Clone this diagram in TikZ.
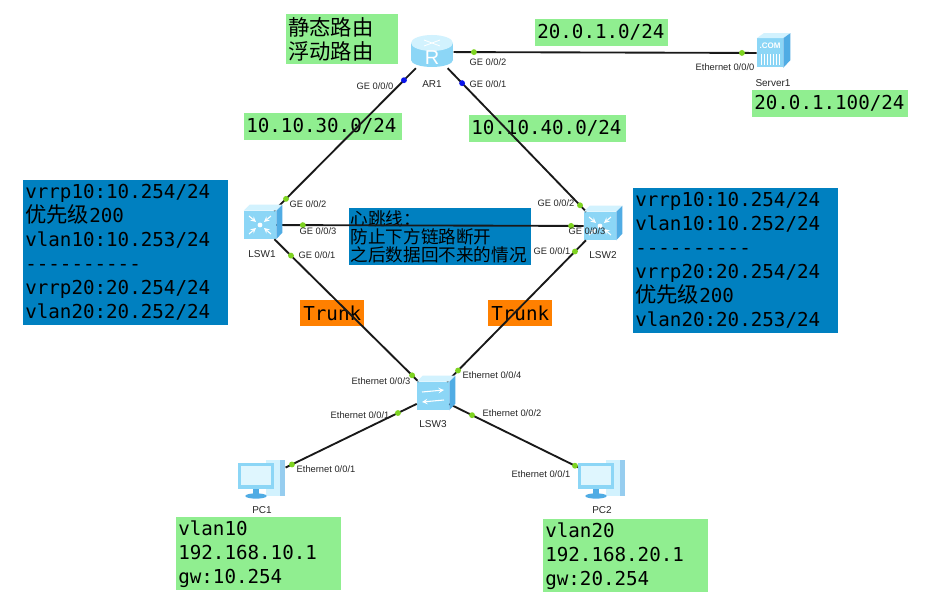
\documentclass[tikz,border=0pt]{standalone}
\usepackage{fontspec}
\setmainfont{Liberation Sans}
\newfontfamily\monofont{DejaVu Sans Mono}[Ligatures=TeXOff]
\newfontfamily\cjk{Noto Sans CJK SC}
\usepackage{tikz}
\usetikzlibrary{calc}
\usetikzlibrary{arrows}

\definecolor{boxgreen}{RGB}{144,238,144}
\definecolor{boxblue}{RGB}{0,128,192}
\definecolor{trunkorange}{RGB}{255,128,0}
\definecolor{portgreen}{RGB}{126,211,33}
\definecolor{portblue}{RGB}{10,20,235}
\definecolor{devfront}{RGB}{140,214,246}
\definecolor{devtop}{RGB}{210,242,254}
\definecolor{devside}{RGB}{80,172,228}

\tikzset{
  gbox/.style={fill=boxgreen, anchor=north west, inner xsep=1.5pt, inner ysep=0pt,
    align=left, font=\monofont\fontsize{14.4}{18}\selectfont},
  bbox/.style={gbox, fill=boxblue},
  trunkbox/.style={fill=trunkorange, anchor=north west, inner sep=0pt,
    minimum width=48pt, minimum height=19.5pt, font=\monofont\fontsize{14.4}{18}\selectfont},
  link/.style={line width=1.4pt, black!90},
  port/.style={font=\fontsize{7}{8}\selectfont, text=black!85, inner sep=0pt},
  devname/.style={font=\fontsize{7.5}{9}\selectfont, text=black!85, inner sep=0pt},
  swbox/.style={rectangle, fill=devfront, minimum width=24pt, minimum height=21pt, inner sep=0pt},
  router/.style={rectangle, minimum width=32pt, minimum height=24pt, inner sep=0pt},
  server/.style={rectangle, fill=devfront, minimum width=19.5pt, minimum height=21.75pt, inner sep=0pt},
  pcbox/.style={rectangle, minimum width=35pt, minimum height=28pt, inner sep=0pt}
}

\begin{document}
\begin{tikzpicture}[x=0.75pt, y=-0.75pt]
\useasboundingbox (0,0) rectangle (931,609);
\fill[white] (0,0) rectangle (931,609);

% text boxes
\node[gbox, text width=81pt, minimum height=37.5pt, font=\cjk\fontsize{16}{18}\selectfont] (static) at (286,14) {静态路由\\浮动路由};
\node[gbox, text width=96.75pt, minimum height=20.25pt] (net20) at (535,19) {20.0.1.0/24};
\node[gbox, text width=114pt, minimum height=20.25pt] (srvip) at (752,90) {20.0.1.100/24};
\node[gbox, text width=115.5pt, minimum height=20.25pt] (net30) at (244,113) {10.10.30.0/24};
\node[gbox, text width=114.75pt, minimum height=20.25pt] (net40) at (469,115) {10.10.40.0/24};
\node[bbox, text width=150.75pt, minimum height=108.75pt] (sw1info) at (23,180)
  {vrrp10:10.254/24\\{\cjk\fontsize{16}{18}\selectfont 优先级}200\\vlan10:10.253/24\\----------\\vrrp20:20.254/24\\vlan20:20.252/24};
\node[bbox, text width=150.75pt, minimum height=108.75pt] (sw2info) at (633,188)
  {vrrp10:10.254/24\\vlan10:10.252/24\\----------\\vrrp20:20.254/24\\{\cjk\fontsize{16}{18}\selectfont 优先级}200\\vlan20:20.253/24};
\node[bbox, inner xsep=1pt, text width=134pt, minimum height=42.75pt, font=\cjk\fontsize{13.2}{13.4}\selectfont] (heart) at (349,208)
  {心跳线：\\防止下方链路断开\\之后数据回不来的情况};
\node[trunkbox] (trunk1) at (300,300) {Trunk};
\node[trunkbox] (trunk2) at (488,300) {Trunk};
\node[gbox, text width=120.75pt, minimum height=54.75pt] (pc1info) at (176,517) {vlan10\\192.168.10.1\\gw:10.254};
\node[gbox, text width=120.75pt, minimum height=54.75pt] (pc2info) at (543,519) {vlan20\\192.168.20.1\\gw:20.254};

% devices
\node[router] (AR1) at (432,52) {};
\node[server] (Server1) at (770,53) {};
\node[swbox] (LSW1) at (260,225) {};
\node[swbox] (LSW2) at (600,226) {};
\node[swbox] (LSW3) at (433,396) {};
\node[pcbox] (PC1) at (262,479) {};
\node[pcbox] (PC2) at (602,479) {};

% links
\foreach \a/\b in {AR1/LSW1, AR1/LSW2, AR1/Server1, LSW1/LSW2, LSW1/LSW3, LSW2/LSW3, LSW3/PC1, LSW3/PC2}
  \draw[link] (\a) -- (\b);

% device drawings
\fill[devfront] ($(AR1)+(-21,-9)$) rectangle ($(AR1)+(21,8)$);
\fill[devfront] ($(AR1)+(0,8)$) ellipse (15.75pt and 5.25pt);
\fill[devtop] ($(AR1)+(0,-9)$) ellipse (15.75pt and 6pt);
\draw[white, line width=0.6pt] ($(AR1)+(-8,-12)$) -- ($(AR1)+(8,-6)$) ($(AR1)+(8,-12)$) -- ($(AR1)+(-8,-6)$);
\node[white, font=\fontsize{15}{15}\selectfont, inner sep=0pt] (ARsign) at ($(AR1)+(0,6)$) {R};

\foreach \s in {LSW1,LSW2,LSW3} {
  \fill[devtop] (\s.north west) -- ++(6,-6) -- ++(32,0) -- (\s.north east) -- cycle;
  \fill[devside] (\s.north east) -- ++(6,-6) -- ++(0,28) -- (\s.south east) -- cycle;
}
\foreach \s in {LSW1,LSW2} {
  \fill[white] (\s) circle (1.8pt);
  \foreach \dx/\dy in {-1/-1, 1/-1, -1/1, 1/1}
    \draw[white, line width=0.8pt, ->, >=stealth] ($(\s)+(11*\dx,9*\dy)$) -- ($(\s)+(4*\dx,3*\dy)$);
}
\draw[white, line width=0.8pt, ->, >=stealth] ($(LSW3)+(-11,-4)$) -- ($(LSW3)+(11,-6)$);
\draw[white, line width=0.8pt, ->, >=stealth] ($(LSW3)+(11,4)$) -- ($(LSW3)+(-11,6)$);

\fill[devtop] (Server1.north west) -- ++(7,-5) -- ++(26,0) -- (Server1.north east) -- cycle;
\fill[devside] (Server1.north east) -- ++(7,-5) -- ++(0,27) -- (Server1.south east) -- cycle;
\node[white, font=\bfseries\fontsize{6}{6}\selectfont, inner sep=0pt] (SRVsign) at ($(Server1)+(0,-7)$) {.COM};
\foreach \i in {-9,-6,...,9}
  \draw[white, line width=0.4pt] ($(Server1)+(\i,1)$) -- ($(Server1)+(\i,12)$);

\foreach \p in {PC1,PC2} {
  \fill[devtop] ($(\p)+(4,-19)$) rectangle ($(\p)+(23,17)$);
  \fill[devside!60] ($(\p)+(18,-19)$) rectangle ($(\p)+(23,17)$);
  \fill[devfront] ($(\p)+(-24,-16)$) rectangle ($(\p)+(12,10)$);
  \fill[devtop!70] ($(\p)+(-21,-13)$) rectangle ($(\p)+(9,6)$);
  \fill[devside] ($(\p)+(-9,10)$) rectangle ($(\p)+(-3,15)$);
  \fill[devside] ($(\p)+(-6,17)$) ellipse (8pt and 2pt);
}

% ports
\fill[portblue] ($(AR1)!0.163!(LSW1)$) circle (2.2pt);
\fill[portblue] ($(AR1)!0.179!(LSW2)$) circle (2.2pt);
\foreach \a/\b/\t in {LSW1/AR1/0.151, LSW2/AR1/0.119, AR1/Server1/0.124, Server1/AR1/0.083,
    LSW1/LSW2/0.126, LSW2/LSW1/0.085, LSW1/LSW3/0.179, LSW3/LSW1/0.121,
    LSW2/LSW3/0.150, LSW3/LSW2/0.150, LSW3/PC1/0.205, PC1/LSW3/0.175,
    LSW3/PC2/0.231, PC2/LSW3/0.160}
  \fill[portgreen] ($(\a)!\t!(\b)$) circle (2.2pt);

% labels
\node[port] (ar1g0) at (375,86) {GE 0/0/0};
\node[port] (ar1g1) at (488,84) {GE 0/0/1};
\node[port] (ar1g2) at (488,62) {GE 0/0/2};
\node[devname] (ar1n) at (432,84) {AR1};
\node[port] (srve0) at (725,67) {Ethernet 0/0/0};
\node[devname] (srvn) at (773,83) {Server1};
\node[port] (sw1g2) at (308,204) {GE 0/0/2};
\node[port] (sw1g3) at (318,231) {GE 0/0/3};
\node[port] (sw1g1) at (317,255) {GE 0/0/1};
\node[devname] (sw1n) at (262,254) {LSW1};
\node[port] (sw2g2) at (556,203) {GE 0/0/2};
\node[port] (sw2g3) at (587,231) {GE 0/0/3};
\node[port] (sw2g1) at (552,251) {GE 0/0/1};
\node[devname] (sw2n) at (603,255) {LSW2};
\node[port] (sw3e3) at (381,381) {Ethernet 0/0/3};
\node[port] (sw3e4) at (492,375) {Ethernet 0/0/4};
\node[port] (sw3e1) at (360,415) {Ethernet 0/0/1};
\node[port] (sw3e2) at (512,413) {Ethernet 0/0/2};
\node[devname] (sw3n) at (433,424) {LSW3};
\node[port] (pc1e1) at (326,469) {Ethernet 0/0/1};
\node[devname] (pc1n) at (262,510) {PC1};
\node[port] (pc2e1) at (541,474) {Ethernet 0/0/1};
\node[devname] (pc2n) at (602,510) {PC2};

\end{tikzpicture}
\end{document}
